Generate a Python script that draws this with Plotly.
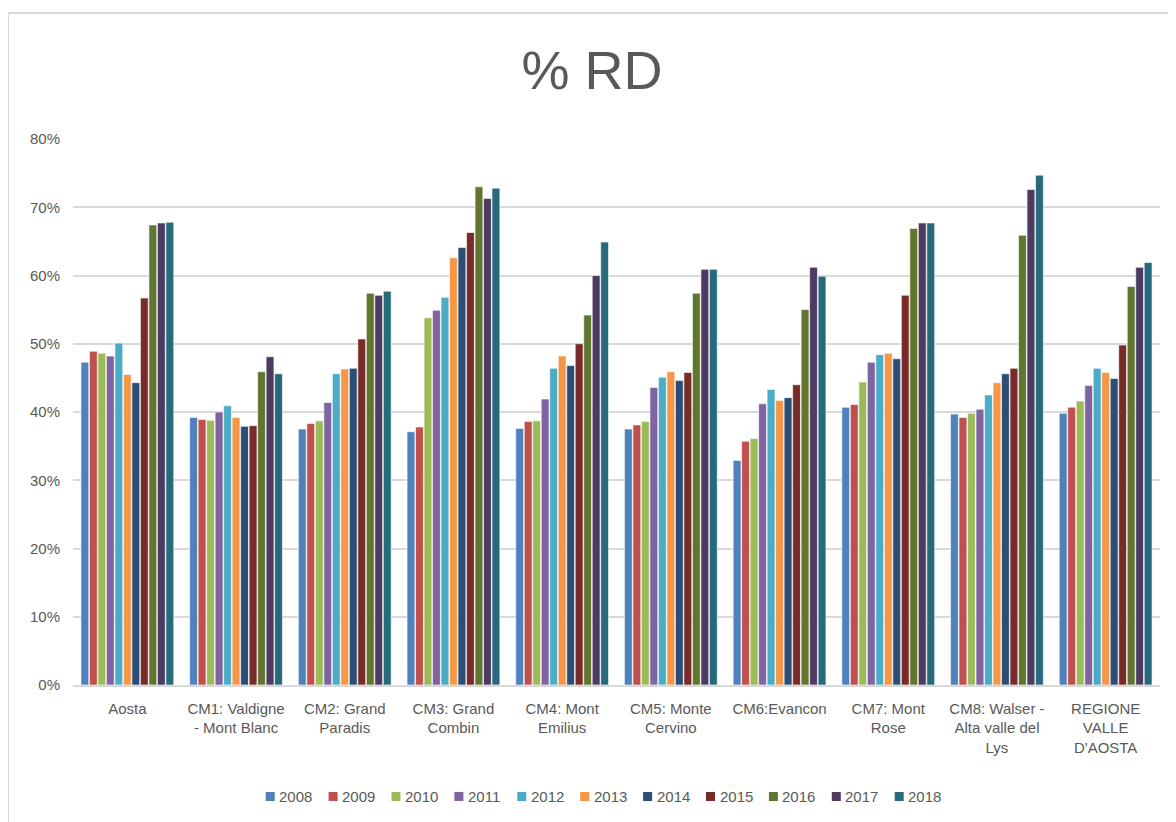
import plotly.graph_objects as go

areas = [
    "Aosta",
    "CM1: Valdigne<br>- Mont Blanc",
    "CM2: Grand<br>Paradis",
    "CM3: Grand<br>Combin",
    "CM4: Mont<br>Emilius",
    "CM5: Monte<br>Cervino",
    "CM6:Evancon",
    "CM7: Mont<br>Rose",
    "CM8: Walser -<br>Alta valle del<br>Lys",
    "REGIONE<br>VALLE<br>D'AOSTA",
]

years = ["2008", "2009", "2010", "2011", "2012", "2013",
         "2014", "2015", "2016", "2017", "2018"]

colors = ["#4F81BD", "#C0504D", "#9BBB59", "#8064A2", "#4BACC6", "#F79646",
          "#2C4D75", "#772C2A", "#5F7530", "#4D3B62", "#276A7C"]

# % RD per area, one list per year
rd_2008 = [47.3, 39.2, 37.5, 37.1, 37.6, 37.5, 32.9, 40.7, 39.7, 39.8]
rd_2009 = [48.9, 38.9, 38.3, 37.8, 38.6, 38.1, 35.7, 41.1, 39.2, 40.7]
rd_2010 = [48.6, 38.8, 38.7, 53.8, 38.7, 38.6, 36.1, 44.4, 39.8, 41.6]
rd_2011 = [48.2, 40.0, 41.4, 54.9, 41.9, 43.6, 41.2, 47.3, 40.4, 43.9]
rd_2012 = [50.1, 40.9, 45.6, 56.8, 46.4, 45.1, 43.3, 48.4, 42.5, 46.4]
rd_2013 = [45.5, 39.2, 46.3, 62.6, 48.2, 45.9, 41.7, 48.6, 44.3, 45.8]
rd_2014 = [44.3, 37.9, 46.4, 64.1, 46.8, 44.6, 42.1, 47.8, 45.6, 44.9]
rd_2015 = [56.7, 38.0, 50.7, 66.3, 50.0, 45.8, 44.0, 57.1, 46.4, 49.8]
rd_2016 = [67.4, 45.9, 57.4, 73.0, 54.2, 57.4, 55.0, 66.9, 65.9, 58.4]
rd_2017 = [67.7, 48.1, 57.1, 71.3, 60.0, 60.9, 61.2, 67.7, 72.6, 61.2]
rd_2018 = [67.8, 45.6, 57.7, 72.8, 64.9, 60.9, 59.9, 67.7, 74.7, 61.9]

series = [rd_2008, rd_2009, rd_2010, rd_2011, rd_2012, rd_2013,
          rd_2014, rd_2015, rd_2016, rd_2017, rd_2018]

grey = "#595959"

fig = go.Figure()

for year, vals, col in zip(years, series, colors):
    fig.add_trace(go.Bar(
        x=areas,
        y=[v / 100 for v in vals],
        name=year,
        marker=dict(color=col, line=dict(color="white", width=0.6)),
        showlegend=False,
    ))

# Excel-style compact legend: small square + year label
PLOT_L, PLOT_W, PLOT_B, PLOT_H = 73, 1087, 685, 546
shapes = [dict(type="rect", xref="paper", yref="paper",
               x0=-0.0598, y0=-0.5, x1=1.2, y1=1.2308,
               line=dict(color="#d9d9d9", width=2), layer="below")]
annotations = []
for i, (year, col) in enumerate(zip(years, colors)):
    sx = 265.7 + 62.9 * i
    shapes.append(dict(type="rect", xref="paper", yref="paper",
                       x0=(sx - PLOT_L) / PLOT_W, x1=(sx + 9 - PLOT_L) / PLOT_W,
                       y0=(PLOT_B - 801) / PLOT_H, y1=(PLOT_B - 792) / PLOT_H,
                       fillcolor=col, line=dict(width=0)))
    annotations.append(dict(text=year, xref="paper", yref="paper",
                            x=(sx + 11.5 - PLOT_L) / PLOT_W, xanchor="left",
                            y=(PLOT_B - 796.5) / PLOT_H, yanchor="middle",
                            showarrow=False, font=dict(size=15, color=grey)))

fig.update_layout(
    width=1168,
    height=814,
    template="plotly_white",
    barmode="group",
    bargap=0.14,
    bargroupgap=0.08,
    font=dict(family="Liberation Sans, Arial, sans-serif", size=15, color=grey),
    title=dict(text="% RD", x=0.5, xanchor="center", y=0.924, yanchor="middle",
               font=dict(size=54, color=grey)),
    margin=dict(l=65, r=16, t=131, b=137),
    plot_bgcolor="white",
    paper_bgcolor="white",
    shapes=shapes,
    annotations=annotations,
)

fig.update_yaxes(range=[0, 0.8], dtick=0.1, tickformat=".0%",
                 gridcolor="#d9d9d9", gridwidth=1.5, zeroline=False,
                 showline=False, ticklabelstandoff=12)
fig.update_xaxes(showline=True, linecolor="#d9d9d9", linewidth=1.5,
                 showgrid=False, ticks="", tickangle=0, ticklabelstandoff=9)

fig.write_html("out.html")
